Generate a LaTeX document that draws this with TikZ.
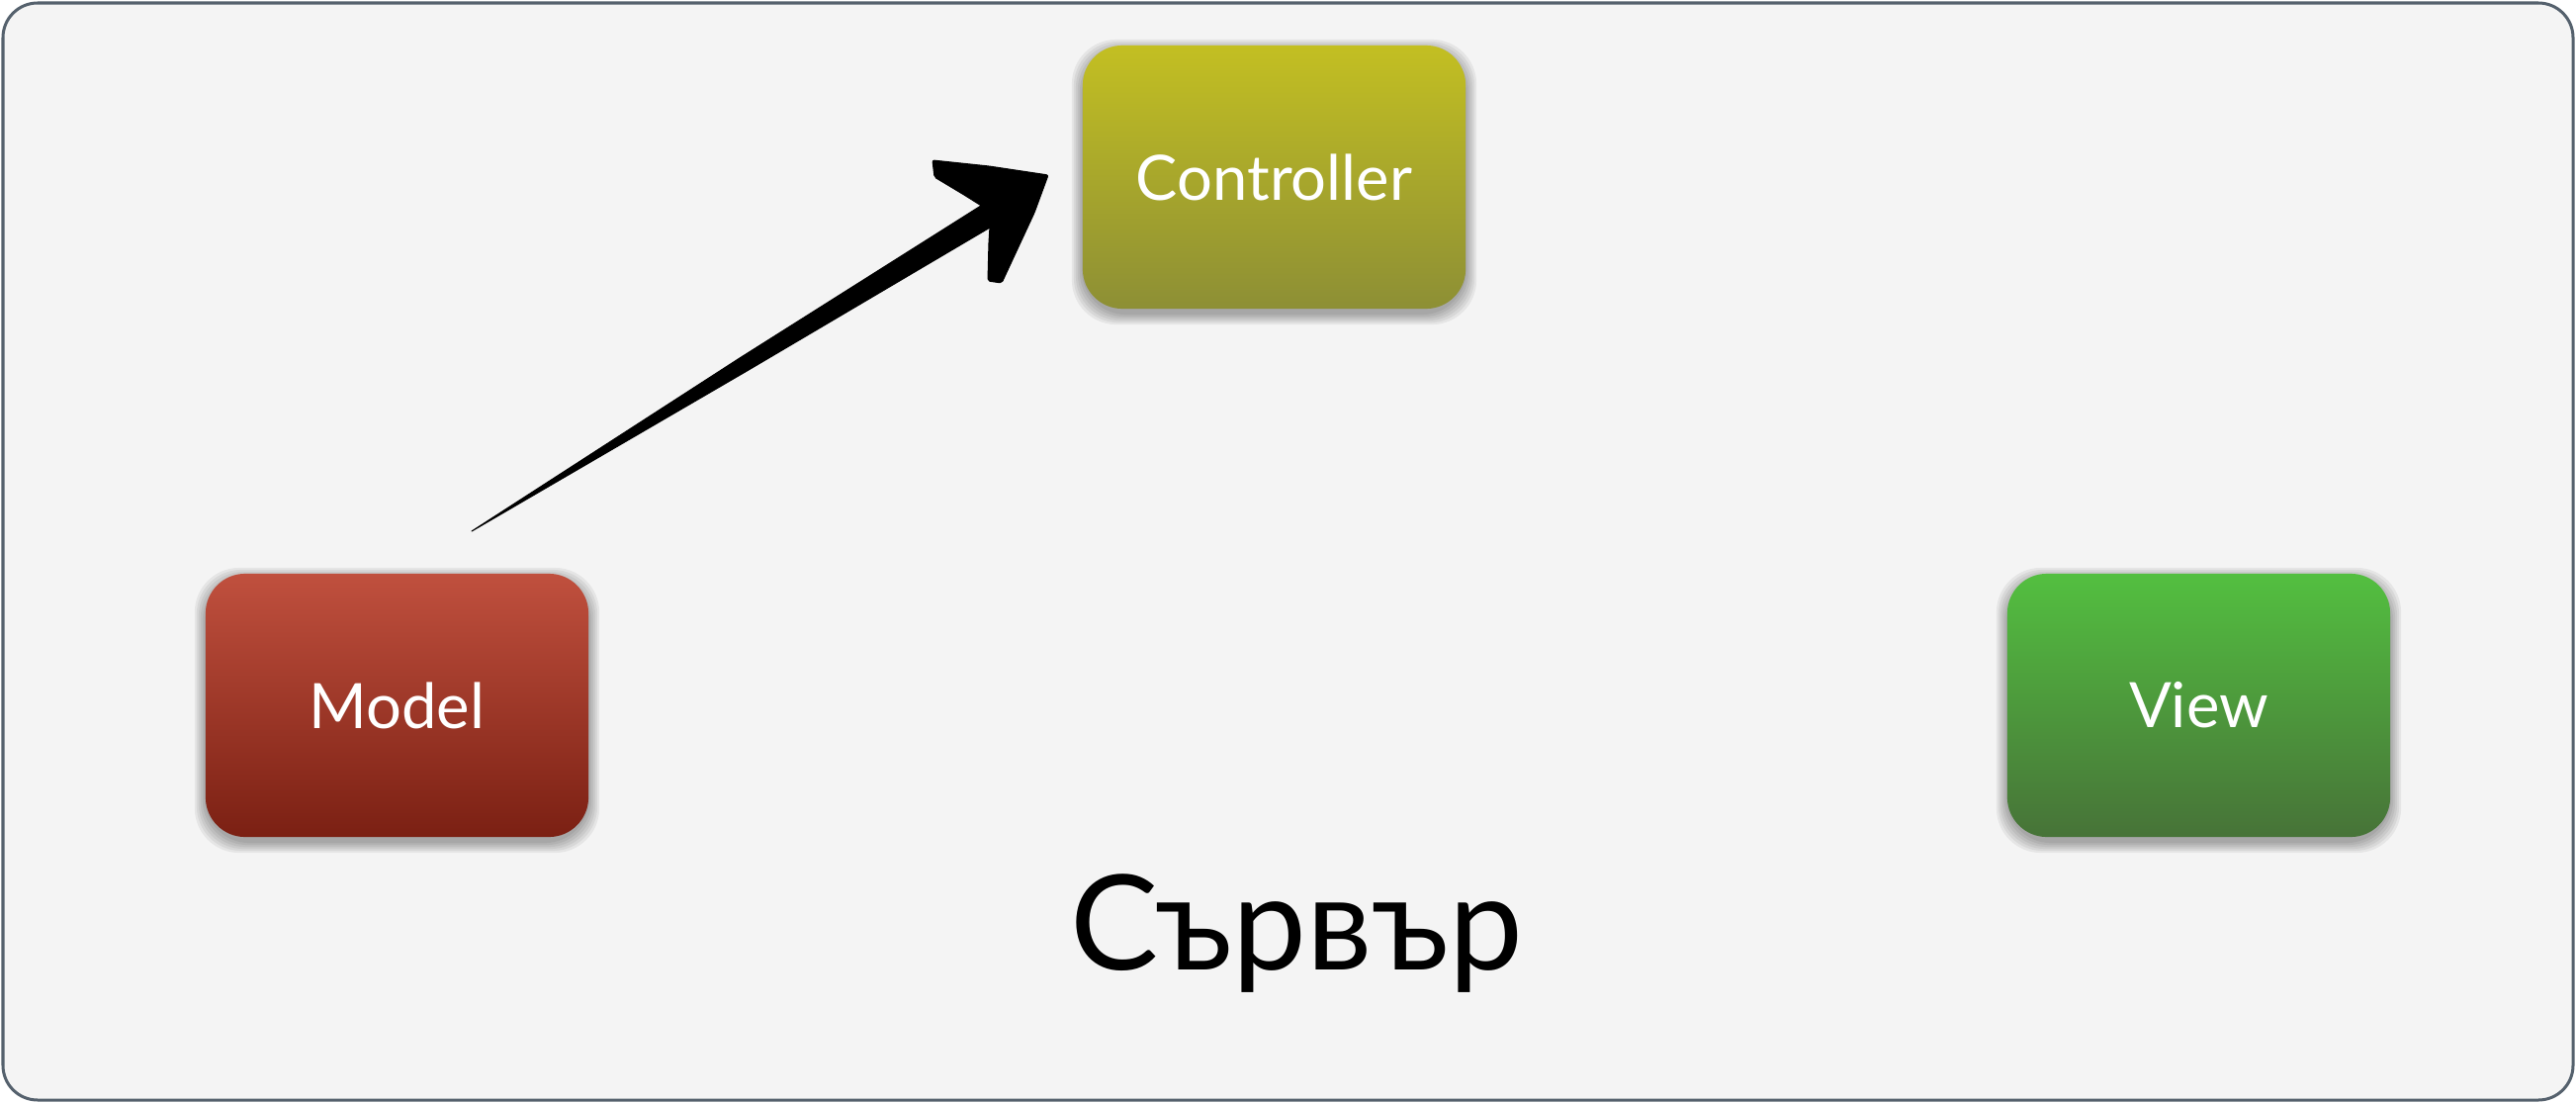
\documentclass[tikz,border=0pt]{standalone}
\usepackage{fontspec}
\setmainfont{Lato}
\usetikzlibrary{calc}
\definecolor{frameline}{HTML}{55616D}
\definecolor{paper}{HTML}{F4F4F4}
\definecolor{ctrlTop}{HTML}{C3BF22}
\definecolor{ctrlBot}{HTML}{8D8F35}
\definecolor{modelTop}{HTML}{C0503E}
\definecolor{modelBot}{HTML}{7B2013}
\definecolor{viewTop}{HTML}{53BF40}
\definecolor{viewBot}{HTML}{477338}
\tikzset{
  mvcbox/.style={rounded corners=0.4cm, minimum width=3.87cm, minimum height=2.66cm,
    inner sep=0pt, draw=none, text=white, font=\fontsize{18}{20}\selectfont},
  shadowlayer/.style={fill=black, opacity=0.06, rounded corners=0.45cm,
    minimum width=3.87cm+#1, minimum height=2.66cm+#1, inner sep=0pt, draw=none},
  ink/.style={fill=black, draw=black, line width=0.3pt, line join=round},
  caption/.style={font=\fontsize{38}{40}\selectfont, text=black, anchor=base, inner sep=0pt}
}
\begin{document}
\begin{tikzpicture}[x=0.01cm,y=-0.01cm]
\useasboundingbox (0,0) rectangle (2605,1115);
\fill[white] (0,0) rectangle (2605,1115);
\draw[frameline, line width=0.03cm, fill=paper, rounded corners=0.35cm] (3,3) rectangle (2602,1112);

% soft shadows
\foreach \p in {(1288.5,184),(401.5,718),(2223.5,718)}{
  \foreach \k in {0.02,0.06,0.10,0.14,0.18,0.22}{
    \node[shadowlayer=\k cm] at \p {};
  }
}

\node[mvcbox, top color=ctrlTop, bottom color=ctrlBot] (ctrl) at (1288.5,179) {Controller};
\node[mvcbox, top color=modelTop, bottom color=modelBot] (model) at (401.5,713) {Model};
\node[mvcbox, top color=viewTop, bottom color=viewBot] (view) at (2223.5,713) {View};

\node[caption] (server) at (1311,980) {Сървър};

% sketchy arrow from Model towards Controller
\coordinate (atail) at (477,537);
\coordinate (ahead) at (1060,177);
\fill[ink] (atail) -- (748,362) -- (1022,189) -- (1035,210) -- (757,374) -- cycle;
\fill[ink, rounded corners=0.02cm] (943,162) -- (1000,168) -- (ahead) -- (1046,215) -- (1013,286)
  -- (999,284) -- (1000,245) -- (1002,214) -- (975,197) -- (945,179) -- cycle;
\end{tikzpicture}
\end{document}
